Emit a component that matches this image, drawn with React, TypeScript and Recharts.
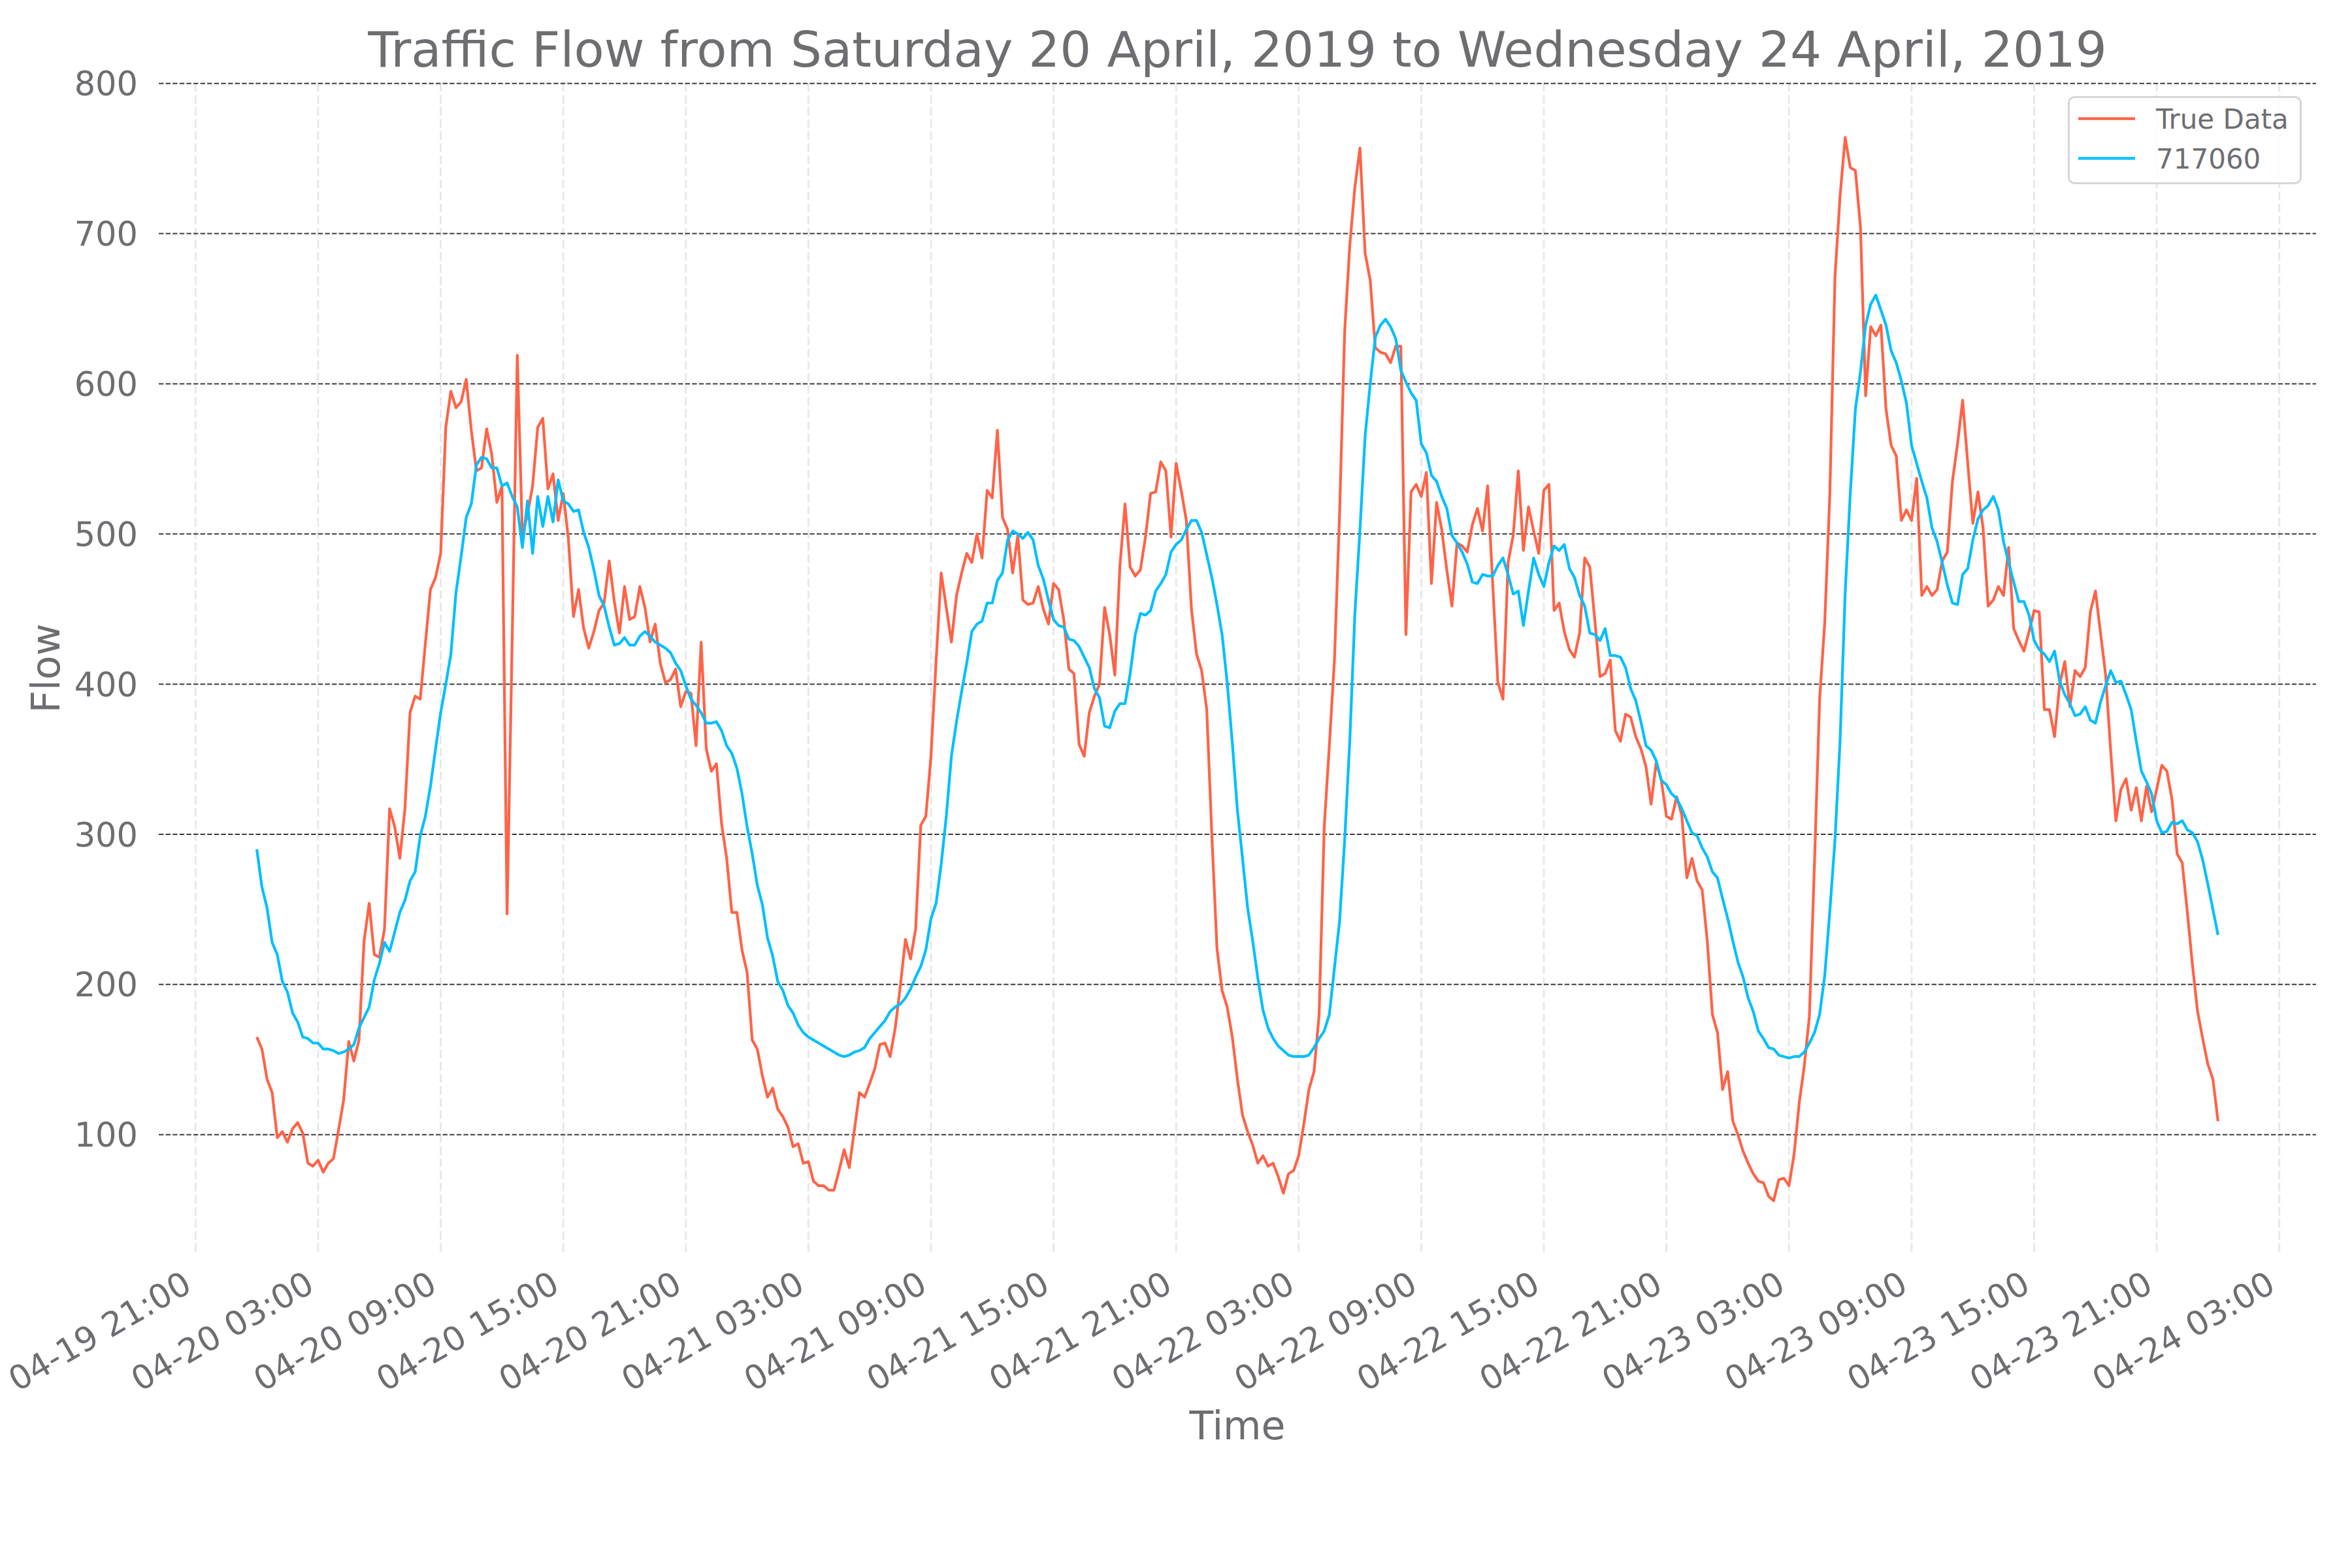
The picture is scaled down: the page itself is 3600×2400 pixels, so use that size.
import React from 'react';
import { LineChart, Line, XAxis, YAxis, CartesianGrid, Legend, Label } from 'recharts';

// 15-minute samples starting 2019-04-20 00:00 (x value = hours since start)
const STEP_HOURS = 0.25;

const trueData = [
  165, 157, 137, 128, 98, 102, 95, 104, 108, 101,
  81, 79, 83, 75, 81, 84, 103, 123, 162, 149,
  163, 229, 254, 220, 218, 237, 317, 305, 284, 317,
  381, 392, 390, 427, 463, 471, 487, 571, 595, 584,
  588, 603, 569, 542, 544, 570, 553, 521, 532, 247,
  430, 619, 499, 513, 532, 571, 577, 530, 540, 509,
  527, 497, 445, 463, 437, 424, 435, 449, 454, 482,
  455, 434, 465, 443, 445, 465, 451, 428, 440, 414,
  401, 403, 410, 385, 395, 394, 359, 428, 357, 342,
  347, 307, 284, 248, 248, 223, 208, 163, 157, 139,
  125, 131, 117, 112, 105, 92, 94, 81, 82, 69,
  66, 66, 63, 63, 76, 90, 78, 103, 128, 125,
  134, 144, 160, 161, 152, 171, 199, 230, 217, 237,
  306, 312, 352, 415, 474, 451, 428, 459, 474, 487,
  481, 500, 484, 529, 524, 569, 511, 503, 474, 499,
  456, 453, 454, 465, 450, 440, 467, 463, 443, 410,
  407, 360, 352, 381, 392, 400, 451, 433, 406, 479,
  520, 478, 472, 476, 498, 527, 528, 548, 542, 498,
  547, 529, 509, 450, 420, 409, 383, 299, 224, 196,
  185, 165, 137, 113, 102, 93, 81, 86, 79, 81,
  72, 61, 74, 76, 86, 107, 130, 142, 180, 305,
  359, 416, 513, 635, 692, 731, 757, 687, 669, 624,
  621, 620, 614, 625, 625, 433, 528, 533, 525, 541,
  467, 521, 503, 476, 452, 494, 492, 488, 506, 517,
  502, 532, 466, 401, 390, 481, 499, 542, 489, 518,
  502, 487, 529, 533, 449, 454, 435, 423, 418, 434,
  484, 478, 442, 405, 407, 416, 369, 362, 380, 378,
  365, 357, 345, 320, 348, 336, 312, 310, 325, 313,
  271, 284, 269, 263, 229, 180, 168, 130, 142, 109,
  100, 89, 81, 74, 69, 68, 59, 56, 70, 71,
  66, 87, 121, 146, 179, 282, 390, 441, 527, 671,
  725, 764, 744, 742, 704, 592, 638, 632, 639, 583,
  559, 552, 509, 516, 509, 537, 459, 465, 459, 463,
  482, 488, 535, 560, 589, 547, 507, 528, 504, 452,
  456, 465, 459, 491, 437, 429, 422, 435, 449, 448,
  383, 383, 365, 400, 415, 385, 409, 405, 411, 448,
  462, 434, 406, 355, 309, 330, 337, 316, 331, 309,
  332, 315, 330, 346, 342, 323, 287, 281, 248, 213,
  182, 164, 147, 137, 109,
];

const pred717060 = [
  290, 265, 251, 228, 220, 202, 195, 181, 175, 165,
  164, 161, 161, 157, 157, 156, 154, 155, 157, 160,
  171, 178, 185, 203, 214, 228, 222, 235, 248, 256,
  269, 275, 299, 312, 332, 357, 381, 400, 420, 461,
  485, 511, 520, 546, 551, 550, 544, 544, 532, 534,
  525, 518, 491, 522, 487, 525, 505, 525, 508, 536,
  522, 520, 515, 516, 501, 491, 476, 459, 452, 438,
  426, 427, 431, 426, 426, 432, 435, 432, 428, 426,
  424, 421, 414, 409, 399, 390, 386, 381, 374, 374,
  375, 369, 359, 354, 344, 327, 305, 287, 266, 253,
  231, 219, 202, 196, 186, 181, 173, 168, 165, 163,
  161, 159, 157, 155, 153, 152, 153, 155, 156, 158,
  164, 168, 172, 176, 182, 185, 187, 191, 197, 205,
  212, 223, 244, 254, 280, 312, 352, 375, 395, 414,
  435, 440, 442, 454, 454, 469, 474, 496, 502, 500,
  497, 501, 496, 479, 470, 456, 443, 439, 438, 430,
  429, 425, 418, 411, 397, 391, 372, 371, 382, 387,
  387, 407, 433, 447, 446, 449, 462, 467, 473, 488,
  493, 496, 503, 509, 509, 501, 486, 471, 453, 433,
  401, 361, 316, 284, 251, 229, 204, 183, 171, 164,
  159, 156, 153, 152, 152, 152, 153, 158, 164, 169,
  180, 211, 242, 296, 362, 447, 503, 565, 600, 631,
  639, 643, 638, 630, 609, 601, 594, 589, 560, 554,
  539, 535, 525, 517, 499, 494, 488, 480, 468, 467,
  473, 472, 472, 479, 484, 473, 460, 462, 439, 462,
  484, 473, 465, 481, 492, 489, 493, 477, 471, 459,
  452, 434, 433, 429, 437, 419, 419, 418, 411, 397,
  389, 375, 359, 356, 349, 336, 333, 327, 324, 317,
  309, 301, 299, 291, 285, 275, 271, 257, 244, 229,
  215, 205, 191, 182, 169, 164, 158, 157, 153, 152,
  151, 152, 152, 155, 161, 168, 180, 206, 249, 296,
  362, 461, 527, 583, 608, 639, 653, 659, 649, 639,
  622, 614, 602, 587, 559, 547, 535, 524, 504, 495,
  481, 466, 454, 453, 473, 477, 496, 510, 516, 519,
  525, 516, 495, 481, 468, 455, 455, 446, 429, 423,
  420, 415, 422, 402, 393, 387, 379, 380, 385, 376,
  374, 388, 399, 409, 401, 402, 393, 383, 362, 342,
  335, 327, 309, 301, 302, 308, 307, 309, 303, 301,
  295, 283, 267, 250, 233,
];

const xTickHours = [-3, 3, 9, 15, 21, 27, 33, 39, 45, 51, 57, 63, 69, 75, 81, 87, 93, 99];
const xTickLabels = [
  '04-19 21:00', '04-20 03:00', '04-20 09:00', '04-20 15:00', '04-20 21:00',
  '04-21 03:00', '04-21 09:00', '04-21 15:00', '04-21 21:00',
  '04-22 03:00', '04-22 09:00', '04-22 15:00', '04-22 21:00',
  '04-23 03:00', '04-23 09:00', '04-23 15:00', '04-23 21:00',
  '04-24 03:00',
];
const xDomain = [-4.8, 100.8];
const yTicks = [100, 200, 300, 400, 500, 600, 700, 800];
const yDomain = [20.7, 800.3];
const seriesNames = ['True Data', '717060'];
const seriesColors = ['#FF6347', '#00BFFF'];
const TITLE = 'Traffic Flow from Saturday 20 April, 2019 to Wednesday 24 April, 2019';

const chartData = trueData.map((v, i) => ({ t: i * STEP_HOURS, trueData: v, pred: pred717060[i] }));

const FONT = '"DejaVu Sans", "Liberation Sans", sans-serif';
const TEXT = '#6e6e72';

function XTick(props: any) {
  const { x, y, payload } = props;
  const idx = xTickHours.indexOf(payload.value);
  const ax = x - 3;
  const ay = y + 56;
  return (
    <text x={ax} y={ay} transform={`rotate(-30 ${ax} ${ay})`} textAnchor="end"
      fontFamily={FONT} fontSize={51} fill={TEXT}>
      {xTickLabels[idx]}
    </text>
  );
}

function YTick(props: any) {
  const { x, y, payload } = props;
  return (
    <text x={x} y={y} dy="0.3645em" textAnchor="end" fontFamily={FONT} fontSize={51} fill={TEXT}>
      {payload.value}
    </text>
  );
}

function XLabel(props: any) {
  const vb = props.viewBox || { x: 243, y: 1919, width: 3302, height: 481 };
  return (
    <text x={vb.x + vb.width / 2} y={vb.y + 284} textAnchor="middle" fontFamily={FONT} fontSize={60} fill={TEXT}>
      Time
    </text>
  );
}

function YLabel(props: any) {
  const vb = props.viewBox || { x: 0, y: 127, width: 243, height: 1792 };
  const lx = vb.x + 91;
  const ly = vb.y + vb.height / 2;
  return (
    <text x={lx} y={ly} transform={`rotate(-90 ${lx} ${ly})`} textAnchor="middle" fontFamily={FONT} fontSize={60} fill={TEXT}>
      Flow
    </text>
  );
}

function renderLegend() {
  return (
    <svg width={358} height={135} style={{ display: 'block', overflow: 'visible' }}>
      <rect x={1.5} y={1.5} width={355} height={132} rx={9} ry={9}
        fill="rgba(255,255,255,0.8)" stroke="#d6d6d6" strokeWidth={3} />
      {seriesNames.map((name, k) => (
        <g key={name}>
          <line x1={16} x2={103} y1={34.7 + 60.6 * k} y2={34.7 + 60.6 * k}
            stroke={seriesColors[k]} strokeWidth={4.2} />
          <text x={135} y={49.7 + 61 * k} fontFamily={FONT} fontSize={42} fill={TEXT}>{name}</text>
        </g>
      ))}
    </svg>
  );
}

function applyScale(axis: any, v: number): number | null {
  const s = axis && axis.scale;
  if (typeof s === 'function') return s(v);
  if (s && typeof s.map === 'function') return s.map(v);
  if (s && typeof s.scale === 'function') return s.scale(v);
  return null;
}

const horizontalGen = (p: any) =>
  yTicks.map((v) => {
    const r = applyScale(p.yAxis, v);
    if (r != null && !Number.isNaN(r)) return r;
    const off = p.offset;
    return off.top + (off.height * (yDomain[1] - v)) / (yDomain[1] - yDomain[0]);
  });

const verticalGen = (p: any) =>
  xTickHours.map((v) => {
    const r = applyScale(p.xAxis, v);
    if (r != null && !Number.isNaN(r)) return r;
    const off = p.offset;
    return off.left + (off.width * (v - xDomain[0])) / (xDomain[1] - xDomain[0]);
  });

export default function App() {
  return (
    <div style={{ position: 'absolute', left: 0, top: 0, width: 3600, height: 2400, background: '#ffffff' }}>
      <svg width={3600} height={200} style={{ position: 'absolute', left: 0, top: 0, pointerEvents: 'none' }}>
        <text x={1894} y={101.7} textAnchor="middle" fontFamily={FONT} fontSize={75.5} fill={TEXT}>{TITLE}</text>
      </svg>
      <LineChart width={3600} height={2400} data={chartData}
        margin={{ top: 127, right: 55, bottom: 0, left: 0 }}>
        <CartesianGrid horizontal={false} verticalCoordinatesGenerator={verticalGen}
          stroke="#e8e8e8" strokeWidth={3} strokeDasharray="13 5.5" />
        <CartesianGrid vertical={false} horizontalCoordinatesGenerator={horizontalGen}
          stroke="#3c3c3c" strokeWidth={2} strokeDasharray="7.4 3.2" />
        <XAxis dataKey="t" type="number" domain={xDomain} ticks={xTickHours} interval={0}
          allowDataOverflow height={481} axisLine={false} tickLine={false} tickSize={0} tickMargin={0}
          tick={<XTick />}>
          <Label content={<XLabel />} />
        </XAxis>
        <YAxis type="number" domain={yDomain} ticks={yTicks} interval={0} allowDataOverflow
          width={243} axisLine={false} tickLine={false} tickSize={0} tickMargin={32}
          tick={<YTick />}>
          <Label content={<YLabel />} />
        </YAxis>
        <Legend content={renderLegend} layout="horizontal" verticalAlign="middle" align="center"
          wrapperStyle={{ left: 3165, top: 147, width: 358, height: 135, margin: 0, padding: 0 }} />
        <Line type="linear" dataKey="trueData" name={seriesNames[0]} stroke={seriesColors[0]} strokeWidth={4.2}
          strokeLinejoin="round" dot={false} activeDot={false} isAnimationActive={false} />
        <Line type="linear" dataKey="pred" name={seriesNames[1]} stroke={seriesColors[1]} strokeWidth={4.2}
          strokeLinejoin="round" dot={false} activeDot={false} isAnimationActive={false} />
      </LineChart>
    </div>
  );
}
